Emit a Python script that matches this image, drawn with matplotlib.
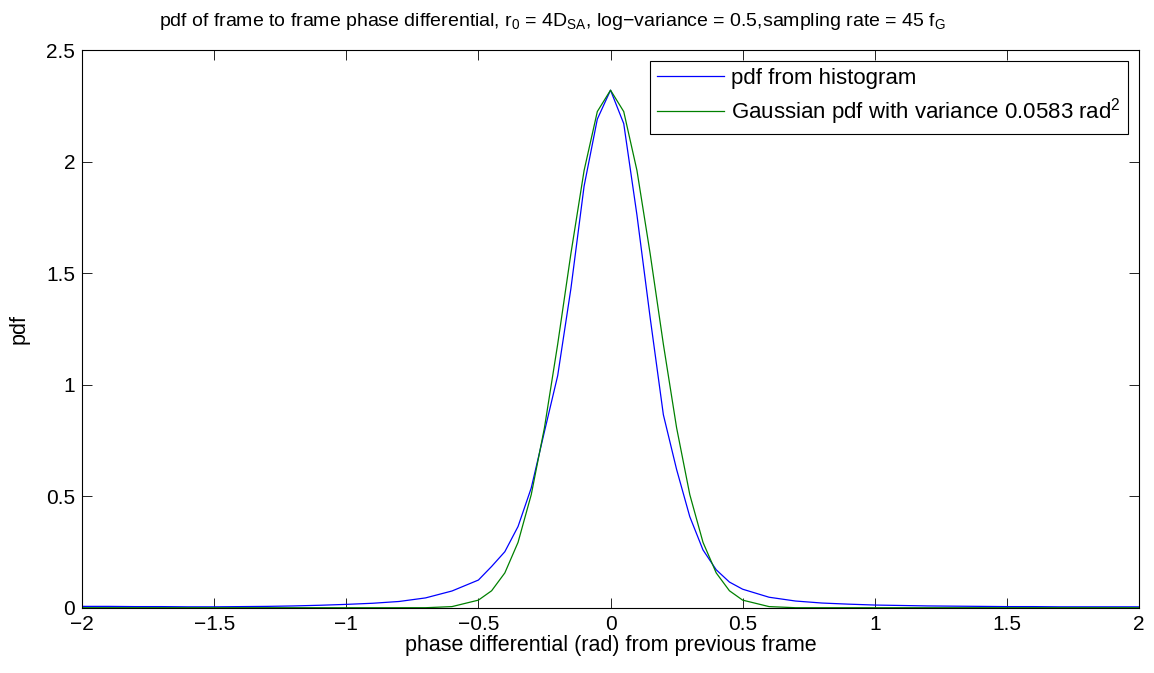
import numpy as np
import matplotlib
matplotlib.use("Agg")
import matplotlib.pyplot as plt

plt.rcParams['font.family'] = ['Liberation Sans', 'DejaVu Sans']
plt.rcParams['mathtext.fontset'] = 'custom'
plt.rcParams['mathtext.rm'] = 'Liberation Sans'
plt.rcParams['mathtext.it'] = 'Liberation Sans'

# phase differential grid (rad)
x = [-2.0, -1.9, -1.8, -1.7, -1.6, -1.5, -1.4, -1.3, -1.2, -1.1, -1.0,
     -0.9, -0.8, -0.7, -0.6, -0.5, -0.45, -0.4, -0.35, -0.3, -0.25, -0.2,
     -0.15, -0.1, -0.05, 0.0, 0.05, 0.1, 0.15, 0.2, 0.25, 0.3, 0.35, 0.4,
     0.45, 0.5, 0.6, 0.7, 0.8, 0.9, 1.0, 1.1, 1.2, 1.3, 1.4, 1.5, 1.6,
     1.7, 1.8, 1.9, 2.0]

# pdf from histogram
pdf_hist = [0.006, 0.006, 0.005, 0.005, 0.004, 0.004, 0.005, 0.006, 0.008,
            0.011, 0.015, 0.020, 0.028, 0.044, 0.075, 0.124, 0.185, 0.251,
            0.364, 0.537, 0.79, 1.04, 1.43, 1.89, 2.19, 2.32, 2.17, 1.76,
            1.30, 0.865, 0.62, 0.408, 0.259, 0.17, 0.115, 0.083, 0.047,
            0.030, 0.021, 0.016, 0.012, 0.010, 0.008, 0.007, 0.006, 0.005,
            0.005, 0.004, 0.004, 0.004, 0.004]

# gaussian fit
pdf_gauss = [0.0, 0.0, 0.0, 0.0, 0.0, 0.0, 0.0, 0.0, 0.0, 0.0, 0.0,
             0.0, 0.0, 0.0, 0.005, 0.034, 0.076, 0.156, 0.293, 0.507, 0.807,
             1.181, 1.587, 1.960, 2.224, 2.32, 2.224, 1.960, 1.587, 1.181,
             0.807, 0.507, 0.293, 0.156, 0.076, 0.034, 0.005, 0.0, 0.0, 0.0,
             0.0, 0.0, 0.0, 0.0, 0.0, 0.0, 0.0, 0.0, 0.0, 0.0, 0.0]

fig = plt.figure(figsize=(11.54, 6.73), dpi=100)
ax = fig.add_axes([0.0711, 0.097, 0.9159, 0.8287])

ax.plot(x, pdf_hist, color=(0, 0, 1), lw=0.9, label='pdf from histogram')
ax.plot(x, pdf_gauss, color=(0, 0.5, 0), lw=0.9,
        label=r'Gaussian pdf with variance 0.0583 rad$^{2}$')

ax.set_xlim(-2, 2)
ax.set_ylim(0, 2.5)
ax.set_xticks(np.arange(-2, 2.01, 0.5))
ax.set_yticks(np.arange(0, 2.51, 0.5))
ax.set_xticklabels(['\u22122', '\u22121.5', '\u22121', '\u22120.5', '0', '0.5', '1', '1.5', '2'])
ax.set_yticklabels(['0', '0.5', '1', '1.5', '2', '2.5'])
ax.tick_params(direction='in', top=True, right=True, length=7, width=0.6,
               labelsize=15, pad=5)
for s in ax.spines.values():
    s.set_linewidth(0.8)

ax.set_xlabel('phase differential (rad) from previous frame', fontsize=15.5, labelpad=1)
ax.set_ylabel('pdf', fontsize=15.5, labelpad=12)
ax.set_title(r'pdf of frame to frame phase differential, r$_0$ = 4D$_{SA}$, '
             r'log$-$variance = 0.5,sampling rate = 45 f$_G$',
             fontsize=14, pad=17, x=0.445)

leg = ax.legend(loc='upper right', fontsize=16, fancybox=False,
                edgecolor='black', framealpha=1, borderaxespad=0.5,
                handlelength=3.0, handletextpad=0.35, borderpad=0.3,
                labelspacing=0.35)
leg.get_frame().set_linewidth(0.8)

fig.savefig('out.png', dpi=100)
